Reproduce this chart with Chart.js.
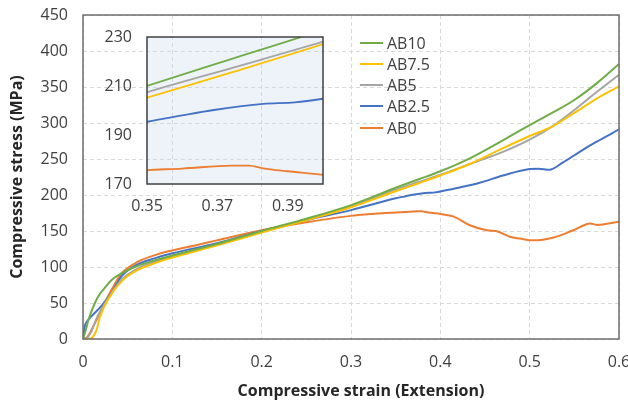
<!DOCTYPE html>
<html>
<head>
<meta charset="utf-8">
<script src="https://cdn.jsdelivr.net/npm/chart.js@4"></script>
<style>
    html, body { margin: 0; padding: 0; background: #fff; }
    #wrap { position: relative; width: 628px; height: 405px; font-family: "Open Sans", sans-serif; }
    #main { position: absolute; left: 0; top: 0; }
    #inset { position: absolute; left: 95px; top: 25px; }
    #legend { position: absolute; left: 360px; top: 32px; font-size: 16px; color: #404040; }
    .item { height: 21.25px; display: flex; align-items: center; }
    .swatch { width: 23px; height: 2px; margin-right: 4px; }
    #xTitle { position: absolute; left: 361px; top: 380px; transform: translateX(-50%); white-space: nowrap;
              font-size: 16px; font-weight: bold; color: #262626; line-height: 20px; }
</style>
</head>
<body>
<div id="wrap">
    <canvas id="main" width="628" height="405"></canvas>
    <canvas id="inset" width="240" height="197"></canvas>
    <div id="legend"></div>
    <div id="xTitle">Compressive strain (Extension)</div>
</div>
<script>
// Series data (strain, stress in MPa)
const ab10Strain = [0, 0.003, 0.006, 0.01, 0.017, 0.025, 0.032, 0.043, 0.06, 0.08, 0.1, 0.15, 0.2, 0.25, 0.3, 0.35, 0.375, 0.4, 0.433, 0.47, 0.5, 0.525, 0.55, 0.575, 0.6];
const ab10Stress = [0, 12, 26, 40, 59, 72, 82, 91, 101, 109, 116, 132, 150, 167, 186, 210, 221.5, 233, 251, 276, 297, 314, 332, 355, 382];

const ab75Strain = [0, 0.007, 0.011, 0.015, 0.019, 0.028, 0.043, 0.06, 0.08, 0.1, 0.15, 0.2, 0.25, 0.3, 0.35, 0.375, 0.4, 0.433, 0.47, 0.5, 0.525, 0.55, 0.575, 0.6];
const ab75Stress = [0, 0, 3, 12, 31, 55, 80, 95, 105, 113, 130, 148, 165, 183, 205.2, 216, 227.1, 243, 265, 282, 295, 314, 334, 351];

const ab5Strain = [0, 0.005, 0.01, 0.015, 0.02, 0.03, 0.043, 0.06, 0.08, 0.1, 0.15, 0.2, 0.25, 0.3, 0.35, 0.375, 0.4, 0.433, 0.47, 0.5, 0.525, 0.55, 0.575, 0.6];
const ab5Stress = [0, 2, 12, 28, 40, 60, 82, 97, 107, 115, 131, 149, 166, 184, 207.4, 217.7, 228.1, 243, 260, 277, 295, 318, 343, 367];

const ab25Strain = [0, 0.002, 0.005, 0.009, 0.02, 0.032, 0.043, 0.06, 0.08, 0.1, 0.15, 0.2, 0.25, 0.3, 0.35, 0.36, 0.369, 0.383, 0.392, 0.4, 0.42, 0.444, 0.47, 0.5, 0.51, 0.522, 0.537, 0.556, 0.575, 0.6];
const ab25Stress = [0, 18, 25, 31, 45, 64, 87, 103, 112, 119, 133, 150, 165, 179, 195.4, 198, 200.2, 202.7, 203.3, 204.8, 210, 217, 227, 236, 236.5, 235, 245, 260, 274, 291];

const ab0Strain = [0, 0.005, 0.01, 0.017, 0.025, 0.035, 0.043, 0.061, 0.087, 0.1, 0.129, 0.15, 0.2, 0.25, 0.3, 0.35, 0.36, 0.374, 0.379, 0.383, 0.39, 0.4, 0.415, 0.433, 0.452, 0.465, 0.478, 0.489, 0.504, 0.527, 0.549, 0.568, 0.575, 0.6];
const ab0Stress = [0, 3, 14, 31, 52, 75, 91, 107, 119, 123, 131, 137, 151, 162, 171, 175.7, 176.3, 177.5, 177.5, 176.4, 175.2, 173.7, 170, 158, 151, 149, 142, 139.5, 137, 141, 151, 160.5, 158.5, 163];

const seriesNames = ['AB10', 'AB7.5', 'AB5', 'AB2.5', 'AB0'];
const seriesColors = ['#70AD47', '#FFC000', '#A5A5A5', '#4472C4', '#ED7D31'];
const seriesStrain = [ab10Strain, ab75Strain, ab5Strain, ab25Strain, ab0Strain];
const seriesStress = [ab10Stress, ab75Stress, ab5Stress, ab25Stress, ab0Stress];

// Tick values
const xTicks = [0, 0.1, 0.2, 0.3, 0.4, 0.5, 0.6];
const yTicks = [0, 50, 100, 150, 200, 250, 300, 350, 400, 450];
const insetXTicks = [0.35, 0.37, 0.39];
const insetYTicks = [170, 190, 210, 230];

const tickFont = { family: '"Open Sans", sans-serif', size: 16 };
const titleFont = { family: '"Open Sans", sans-serif', size: 16, weight: 'bold' };

function makeDatasets(width) {
    return seriesNames.map((name, i) => ({
        label: name,
        data: seriesStrain[i].map((x, j) => ({ x: x, y: seriesStress[i][j] })),
        borderColor: seriesColors[i],
        backgroundColor: seriesColors[i],
        borderWidth: width,
        pointRadius: 0,
        showLine: true,
        cubicInterpolationMode: 'monotone'
    }));
}

function fixedTicks(values) {
    return scale => { scale.ticks = values.map(v => ({ value: v })); };
}

// box around the plot area
const frame = {
    id: 'frame',
    afterDatasetsDraw(chart, args, opts) {
        const a = chart.chartArea;
        const ctx = chart.ctx;
        ctx.save();
        ctx.strokeStyle = opts.color;
        ctx.lineWidth = opts.width;
        ctx.strokeRect(a.left, a.top, a.right - a.left, a.bottom - a.top);
        ctx.restore();
    }
};

const insetFill = {
    id: 'insetFill',
    beforeDatasetsDraw(chart, args, opts) {
        const a = chart.chartArea;
        chart.ctx.save();
        chart.ctx.fillStyle = opts.color;
        chart.ctx.fillRect(a.left, a.top, a.right - a.left, a.bottom - a.top);
        chart.ctx.restore();
    }
};

new Chart(document.getElementById('main'), {
    type: 'scatter',
    data: { datasets: makeDatasets(2) },
    plugins: [frame],
    options: {
        responsive: false,
        animation: false,
        layout: { padding: { top: 15, right: 9, left: 0, bottom: 0 } },
        plugins: {
            legend: { display: false },
            tooltip: { enabled: false },
            frame: { color: '#6e6e6e', width: 1.5 }
        },
        scales: {
            x: {
                type: 'linear', min: 0, max: 0.6,
                grid: { color: '#d9d9d9', drawTicks: false },
                border: { display: false, dash: [4, 3] },
                ticks: { font: tickFont, color: '#404040', padding: 14, callback: v => String(v) },
                afterBuildTicks: fixedTicks(xTicks),
                afterFit(s) { s.height = 66; s.paddingLeft = 0; s.paddingRight = 0; }
            },
            y: {
                type: 'linear', min: 0, max: 450,
                grid: { color: '#d9d9d9', drawTicks: false },
                border: { display: false, dash: [4, 3] },
                ticks: { font: tickFont, color: '#404040', padding: 15 },
                title: { display: true, text: 'Compressive stress (MPa)', font: titleFont, color: '#262626', padding: { top: 8, bottom: 0 } },
                afterBuildTicks: fixedTicks(yTicks),
                afterFit(s) { s.width = 83; s.paddingTop = 0; s.paddingBottom = 0; }
            }
        }
    }
});

new Chart(document.getElementById('inset'), {
    type: 'scatter',
    data: { datasets: makeDatasets(1.8) },
    plugins: [insetFill, frame],
    options: {
        responsive: false,
        animation: false,
        layout: { padding: { top: 12, right: 12, left: 0, bottom: 0 } },
        plugins: {
            legend: { display: false },
            tooltip: { enabled: false },
            insetFill: { color: 'rgba(200, 215, 240, 0.3)' },
            frame: { color: '#404040', width: 1.5 }
        },
        scales: {
            x: {
                type: 'linear', min: 0.35, max: 0.40,
                grid: { display: false, drawTicks: false },
                border: { display: false },
                ticks: { font: tickFont, color: '#404040', padding: 13, callback: v => String(v) },
                afterBuildTicks: fixedTicks(insetXTicks),
                afterFit(s) { s.height = 38; s.paddingLeft = 0; s.paddingRight = 0; }
            },
            y: {
                type: 'linear', min: 170, max: 230,
                grid: { display: false, drawTicks: false },
                border: { display: false },
                ticks: { font: tickFont, color: '#404040', padding: 15 },
                afterBuildTicks: fixedTicks(insetYTicks),
                afterFit(s) { s.width = 52; s.paddingTop = 0; s.paddingBottom = 0; }
            }
        }
    }
});

// Legend
const legend = document.getElementById('legend');
seriesNames.forEach((name, i) => {
    const item = document.createElement('div');
    item.className = 'item';
    item.innerHTML = `<span class="swatch" style="background:${seriesColors[i]}"></span><span>${name}</span>`;
    legend.appendChild(item);
});
</script>
</body>
</html>
